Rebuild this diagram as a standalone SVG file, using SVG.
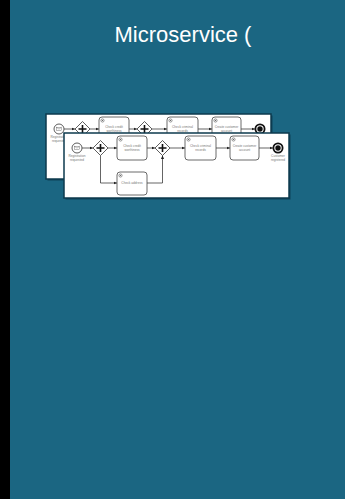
<svg xmlns="http://www.w3.org/2000/svg" width="345" height="499" viewBox="0 0 345 499">
<defs>
<marker id="arr" markerUnits="userSpaceOnUse" markerWidth="4" markerHeight="4" refX="3.5" refY="2" orient="auto">
<path d="M0,0.4 L3.5,2 L0,3.6 Z" fill="#222"/>
</marker>
<g id="gear"><circle r="1.6" fill="none" stroke="#555" stroke-width="0.6"/><circle r="0.6" fill="#555"/></g>
</defs>
<style>
.card{fill:#fff;stroke:#0c3a4d;stroke-width:1.5}
.shadow{fill:#0e4258}
.task{fill:#fff;stroke:#444;stroke-width:0.8}
.ev{fill:#fff;stroke:#333;stroke-width:0.8}
.end{fill:#fff;stroke:#111;stroke-width:1.8}
.gw{fill:#fff;stroke:#333;stroke-width:0.8}
.plus{stroke:#111;stroke-width:1.6}
.flow{fill:none;stroke:#222;stroke-width:0.7}
.lbl{font-family:"Liberation Sans",Arial,sans-serif;font-size:3.2px;fill:#777;text-anchor:middle}
.title{font-family:"Liberation Sans",Arial,sans-serif;font-size:22px;fill:#fff;text-anchor:middle}
</style>
<rect x="0" y="0" width="345" height="499" fill="#1b6682"/>
<rect x="0" y="0" width="10" height="499" fill="#000"/>
<text class="title" x="183" y="42">Microservice (</text>

<!-- back card -->
<g id="back-card" transform="translate(-18,-19)">
<rect class="shadow" x="65.5" y="134.5" width="225" height="65"/>
<rect class="card" x="64" y="133" width="225" height="65"/>
<g id="b-connectors">
<line class="flow" x1="82" y1="148" x2="93" y2="148" marker-end="url(#arr)"/>
<line class="flow" x1="108" y1="148" x2="117" y2="148" marker-end="url(#arr)"/>
<line class="flow" x1="147" y1="148" x2="155" y2="148" marker-end="url(#arr)"/>
<line class="flow" x1="170" y1="148" x2="185" y2="148" marker-end="url(#arr)"/>
<line class="flow" x1="216" y1="148" x2="230" y2="148" marker-end="url(#arr)"/>
<line class="flow" x1="259" y1="148" x2="273" y2="148" marker-end="url(#arr)"/>
</g>
<g id="b-start"><circle class="ev" cx="77" cy="148" r="5"/><rect x="74.6" y="146.3" width="4.8" height="3.4" fill="none" stroke="#555" stroke-width="0.4"/><path d="M74.6,146.3 L77,148.2 L79.4,146.3" fill="none" stroke="#555" stroke-width="0.4"/><text class="lbl" x="77" y="157">Registration</text><text class="lbl" x="77" y="160.5">requested</text></g>
<g id="b-gw1"><path class="gw" d="M100.5,140.5 L108,148 L100.5,155.5 L93,148 Z"/><path class="plus" d="M100.5,144 V152 M96.5,148 H104.5"/></g>
<g id="b-credit"><rect class="task" x="117" y="136" width="30" height="24" rx="3"/><use href="#gear" x="120.5" y="139.5"/><text class="lbl" x="132" y="147">Check credit</text><text class="lbl" x="132" y="151">worthiness</text></g>
<g id="b-gw2"><path class="gw" d="M162.5,140.5 L170,148 L162.5,155.5 L155,148 Z"/><path class="plus" d="M162.5,144 V152 M158.5,148 H166.5"/></g>
<g id="b-criminal"><rect class="task" x="185" y="136" width="31" height="24" rx="3"/><use href="#gear" x="188.5" y="139.5"/><text class="lbl" x="200.5" y="147">Check criminal</text><text class="lbl" x="200.5" y="151">records</text></g>
<g id="b-create"><rect class="task" x="230" y="136" width="29" height="24" rx="3"/><use href="#gear" x="233.5" y="139.5"/><text class="lbl" x="244.5" y="147">Create customer</text><text class="lbl" x="244.5" y="151">account</text></g>
<g id="b-end"><circle class="end" cx="278" cy="148" r="4.6"/><circle cx="278" cy="148" r="2.7" fill="#111"/></g>
</g>

<!-- front card -->
<g id="front-card">
<rect class="shadow" x="65.5" y="134.5" width="225" height="65"/>
<rect class="card" x="64" y="133" width="225" height="65"/>
</g>
<g id="connectors">
<line class="flow" x1="82" y1="148" x2="93" y2="148" marker-end="url(#arr)"/>
<line class="flow" x1="108" y1="148" x2="117" y2="148" marker-end="url(#arr)"/>
<line class="flow" x1="147" y1="148" x2="155" y2="148" marker-end="url(#arr)"/>
<line class="flow" x1="170" y1="148" x2="185" y2="148" marker-end="url(#arr)"/>
<line class="flow" x1="216" y1="148" x2="230" y2="148" marker-end="url(#arr)"/>
<line class="flow" x1="259" y1="148" x2="273" y2="148" marker-end="url(#arr)"/>
<polyline class="flow" points="100.5,155.5 100.5,183 117,183" marker-end="url(#arr)"/>
<polyline class="flow" points="147,183 162.5,183 162.5,155.5" marker-end="url(#arr)"/>
</g>
<g id="start"><circle class="ev" cx="77" cy="148" r="5"/><rect x="74.6" y="146.3" width="4.8" height="3.4" fill="none" stroke="#555" stroke-width="0.4"/><path d="M74.6,146.3 L77,148.2 L79.4,146.3" fill="none" stroke="#555" stroke-width="0.4"/><text class="lbl" x="77" y="157">Registration</text><text class="lbl" x="77" y="160.5">requested</text></g>
<g id="gw1"><path class="gw" d="M100.5,140.5 L108,148 L100.5,155.5 L93,148 Z"/><path class="plus" d="M100.5,144 V152 M96.5,148 H104.5"/></g>
<g id="credit"><rect class="task" x="117" y="136" width="30" height="24" rx="3"/><use href="#gear" x="120.5" y="139.5"/><text class="lbl" x="132" y="147">Check credit</text><text class="lbl" x="132" y="151">worthiness</text></g>
<g id="address"><rect class="task" x="117" y="172" width="30" height="23" rx="3"/><use href="#gear" x="120.5" y="175.5"/><text class="lbl" x="132" y="184">Check address</text></g>
<g id="gw2"><path class="gw" d="M162.5,140.5 L170,148 L162.5,155.5 L155,148 Z"/><path class="plus" d="M162.5,144 V152 M158.5,148 H166.5"/></g>
<g id="criminal"><rect class="task" x="185" y="136" width="31" height="24" rx="3"/><use href="#gear" x="188.5" y="139.5"/><text class="lbl" x="200.5" y="147">Check criminal</text><text class="lbl" x="200.5" y="151">records</text></g>
<g id="create"><rect class="task" x="230" y="136" width="29" height="24" rx="3"/><use href="#gear" x="233.5" y="139.5"/><text class="lbl" x="244.5" y="147">Create customer</text><text class="lbl" x="244.5" y="151">account</text></g>
<g id="end"><circle class="end" cx="278" cy="148" r="4.6"/><circle cx="278" cy="148" r="2.7" fill="#111"/><text class="lbl" x="278" y="157">Customer</text><text class="lbl" x="278" y="160.5">registered</text></g>
</svg>
